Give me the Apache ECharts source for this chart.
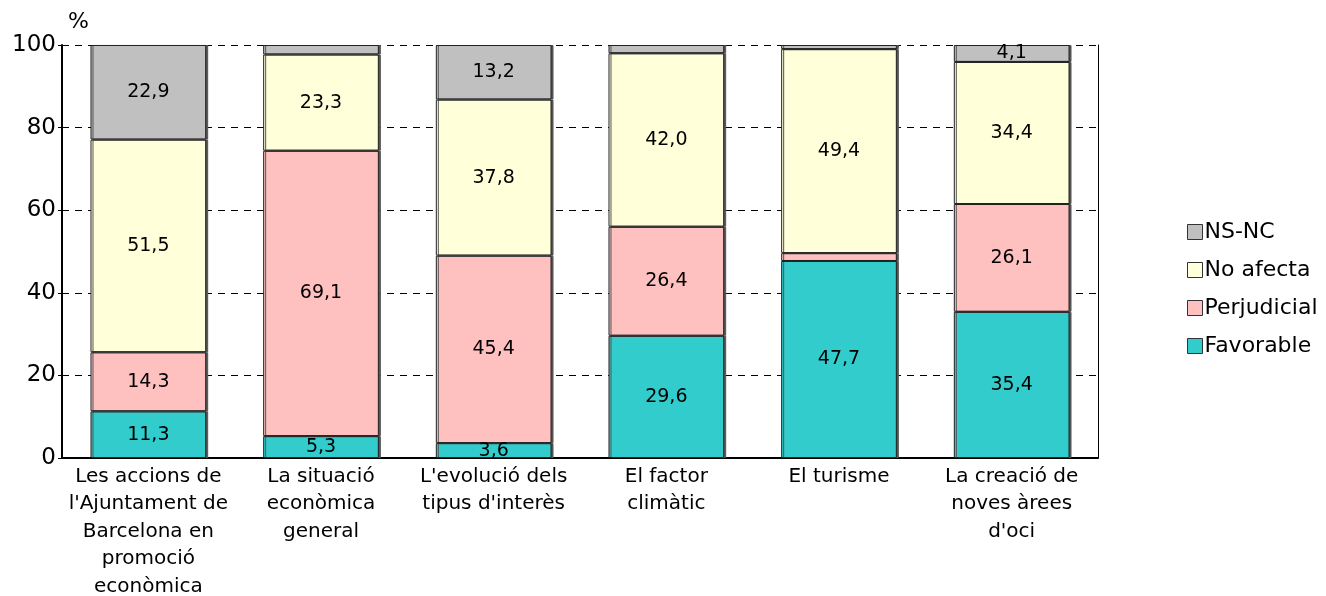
<!DOCTYPE html>
<html>
<head>
<meta charset="utf-8">
<script src="https://cdn.jsdelivr.net/npm/echarts@6/dist/echarts.min.js"></script>
<style>
  html, body { margin: 0; padding: 0; background: #fff; }
  #chart { width: 1326px; height: 596px; }
</style>
</head>
<body>
<div id="chart"></div>
<script>
const categories = [
  'Les accions de\nl\'Ajuntament de\nBarcelona en\npromoció\neconòmica',
  'La situació\neconòmica\ngeneral',
  'L\'evolució dels\ntipus d\'interès',
  'El factor\nclimàtic',
  'El turisme',
  'La creació de\nnoves àrees\nd\'oci'
]
const favorable = [11.3, 5.3, 3.6, 29.6, 47.7, 35.4]
const perjudicial = [14.3, 69.1, 45.4, 26.4, 1.9, 26.1]
const noAfecta = [51.5, 23.3, 37.8, 42.0, 49.4, 34.4]
const nsnc = [22.9, 2.3, 13.2, 2.0, 1.0, 4.1]
const yTicks = [0, 20, 40, 60, 80, 100]

const font = 'DejaVu Sans, Verdana, sans-serif'

let chart = echarts.init(document.getElementById('chart'))

let makeSeries = (name, data, color) => ({
  name: name,
  type: 'bar',
  stack: 'total',
  data: data,
  barCategoryGap: '33%',
  itemStyle: {
    color: color,
    borderColor: '#222',
    borderWidth: 1,
    shadowColor: '#555',
    shadowOffsetX: 2,
    shadowOffsetY: 0
  },
  label: {
    show: true,
    position: 'inside',
    color: '#000',
    fontFamily: font,
    fontSize: 19,
    formatter: (p) => p.value >= 3 ? p.value.toFixed(1).replace('.', ',') : ''
  }
})

let opts = {
  animation: false,
  textStyle: { fontFamily: font },
  grid: { left: 62, right: 228, top: 45, bottom: 138, outerBoundsMode: 'none' },
  legend: {
    orient: 'vertical',
    left: 1182,
    top: 216,
    itemWidth: 15,
    itemHeight: 15,
    itemGap: 16,
    icon: 'rect',
    data: ['NS-NC', 'No afecta', 'Perjudicial', 'Favorable'],
    itemStyle: { borderColor: '#333', borderWidth: 1 },
    textStyle: { fontFamily: font, fontSize: 22, color: '#000', padding: [0, 0, 0, -3] }
  },
  xAxis: {
    type: 'category',
    data: categories,
    axisLine: { lineStyle: { color: '#000', width: 2 } },
    axisTick: { show: false },
    axisLabel: {
      interval: 0,
      color: '#000',
      fontFamily: font,
      fontSize: 20,
      lineHeight: 27.5,
      margin: 5
    }
  },
  yAxis: [
    {
      type: 'value',
      min: yTicks[0],
      max: yTicks[yTicks.length - 1],
      interval: 20,
      name: '%',
      nameLocation: 'end',
      nameGap: 12,
      nameTextStyle: { color: '#000', fontFamily: font, fontSize: 22, align: 'left', padding: [0, 0, 0, 6] },
      axisLine: { show: true, lineStyle: { color: '#000', width: 2 } },
      axisTick: { show: true, length: 4, lineStyle: { color: '#000' } },
      axisLabel: { color: '#000', fontFamily: font, fontSize: 23, margin: 6 },
      splitLine: { show: true, lineStyle: { color: '#000', type: [7, 6], width: 1 } }
    },
    {
      type: 'value',
      min: 0,
      max: 100,
      interval: 20,
      position: 'right',
      axisLine: { show: true, lineStyle: { color: '#000', width: 1 } },
      axisTick: { show: false },
      axisLabel: { show: false },
      splitLine: { show: false }
    }
  ],
  series: [
    makeSeries('Favorable', favorable, '#33CCCC'),
    makeSeries('Perjudicial', perjudicial, '#FFC0C0'),
    makeSeries('No afecta', noAfecta, '#FFFFDA'),
    makeSeries('NS-NC', nsnc, '#C0C0C0')
  ]
}
chart.setOption(opts)
</script>
</body>
</html>
